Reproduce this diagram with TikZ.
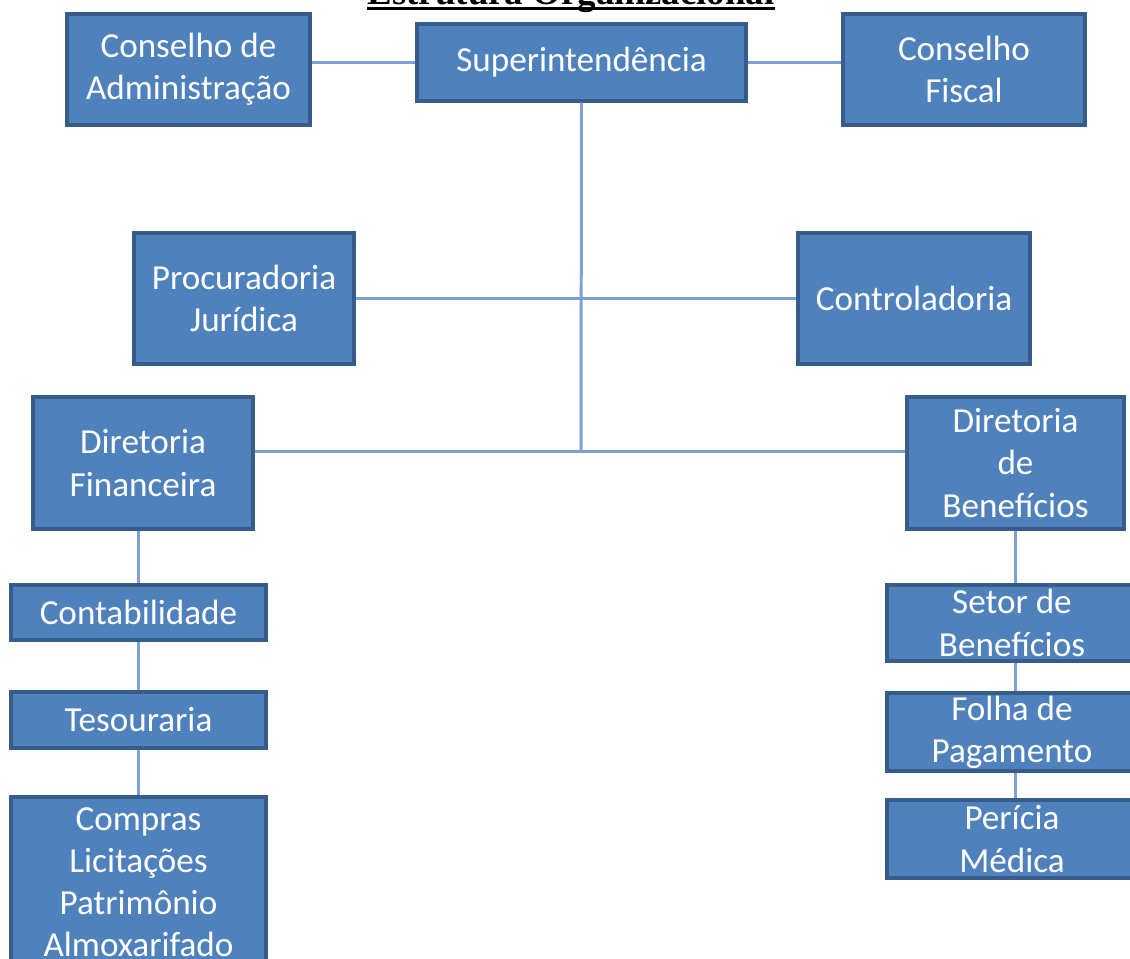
\documentclass[tikz,border=0pt]{standalone}
\usepackage{fontspec}
\setmainfont{Carlito}
\newfontfamily\titlefont{Liberation Serif}
\usetikzlibrary{positioning,calc,shadows}
\definecolor{boxfill}{HTML}{4F81BD}
\definecolor{boxline}{HTML}{385C89}
\definecolor{linkblue}{HTML}{7DA2D2}

\begin{document}
\begin{tikzpicture}[x=0.02cm,y=-0.02cm,
		org/.style 2 args={draw=boxline,fill=boxfill,line width=1.9pt,text=white,align=center,
			inner sep=0pt,minimum width=#1*0.02cm,minimum height=#2*0.02cm,
			font=\fontsize{20}{24}\selectfont,
			drop shadow={shadow xshift=1pt,shadow yshift=-1pt,opacity=0.35}},
		link/.style={draw=linkblue,line width=1.7pt}]
		\useasboundingbox (0,0) rectangle (1130,958);
		%title (cut at the top)
		\node[font=\titlefont\bfseries\fontsize{21}{25}\selectfont,anchor=base,inner sep=0pt] (title) at (571,4) {Estrutura Organizacional};
		\draw[line width=1.7pt] ($(title.base west)+(0,4.5)$) -- ($(title.base east)+(0,4.5)$);
		%top row
		\node[org={329}{77}] (sup) at (581.5,62.5) {Superintendência};
		\node[org={243}{111}] (cadm) at (188.5,69.5) {Conselho de\\Administração};
		\node[org={242}{111}] (cfis) at (964,69.5) {Conselho\\Fiscal};
		%advisory
		\node[org={220}{131}] (proc) at (244,298.5) {Procuradoria\\Jurídica};
		\node[org={232}{131}] (ctrl) at (914,298.5) {Controladoria};
		%directorates
		\node[org={220}{132}] (dfin) at (143,463) {Diretoria\\Financeira};
		\node[org={217}{132}] (dben) at (1015.5,463) {Diretoria\\de\\Benefícios};
		%financial units
		\node[org={255}{55}] (cont) at (138.5,612.5) {Contabilidade};
		\node[org={255}{56}] (tes) at (138.5,720) {Tesouraria};
		\node[org={255}{170}] (comp) at (138.5,882) {Compras\\Licitações\\Patrimônio\\Almoxarifado};
		%benefit units
		\node[org={250}{76}] (setor) at (1012,623) {Setor de\\Benefícios};
		\node[org={250}{78}] (folha) at (1012,732) {Folha de\\Pagamento};
		\node[org={250}{78}] (peri) at (1012,839) {Perícia\\Médica};
		%connectors
		\coordinate (hub) at (581,451);
		\draw[link] (cadm.east |- sup.west) -- (sup.west);
		\draw[link] (sup.east) -- (cfis.west |- sup.east);
		\draw[link] (sup.south) -- (hub);
		\draw[link] (proc.east) -- (ctrl.west);
		\draw[link] (dfin.east |- hub) -- (dben.west |- hub);
		\draw[link] (cont.north |- dfin.south) -- (cont.north);
		\draw[link] (cont.south) -- (tes.north);
		\draw[link] (tes.south) -- (comp.north);
		\draw[link] (dben.south) -- (dben.south |- setor.north);
		\draw[link] (dben.south |- setor.south) -- (dben.south |- folha.north);
		\draw[link] (dben.south |- folha.south) -- (dben.south |- peri.north);
	\end{tikzpicture}
\end{document}
